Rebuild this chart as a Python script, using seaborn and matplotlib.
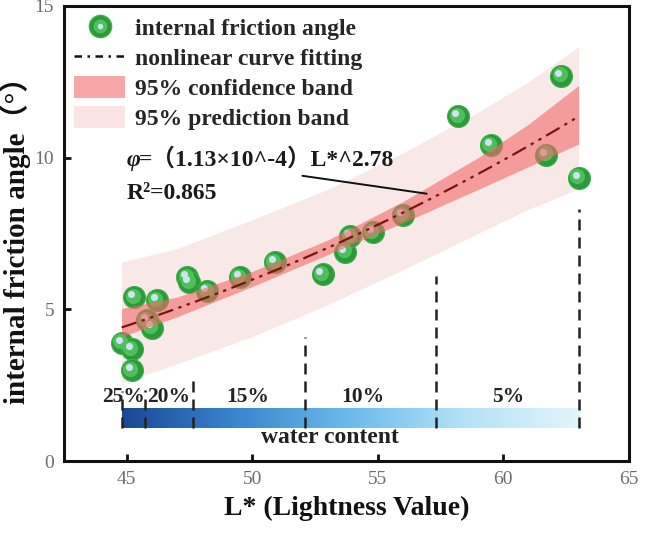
import numpy as np
import pandas as pd
import matplotlib
matplotlib.use("Agg")
import matplotlib.pyplot as plt
import matplotlib.transforms as mtransforms
from matplotlib.colors import LinearSegmentedColormap
from matplotlib.patches import Patch
from matplotlib.lines import Line2D
from matplotlib.legend_handler import HandlerTuple
import seaborn as sns

# ---------------- data ----------------
lightness = [44.8, 45.2, 45.2, 45.3, 45.8, 46.0, 46.2, 47.4, 47.5, 48.2, 49.5,
             50.9, 52.8, 53.7, 53.9, 54.8, 56.0, 58.2, 59.5, 61.7, 62.3, 63.0]
friction = [3.9, 3.68, 3.0, 5.4, 4.64, 4.4, 5.3, 6.06, 5.9, 5.6, 6.06,
            6.56, 6.16, 6.9, 7.4, 7.55, 8.1, 11.36, 10.4, 10.1, 12.7, 9.34]

fit_a = 1.13e-4
fit_b = 2.78

band_x = [44.8, 47, 50, 53, 56, 59, 61, 63]
conf_lo = [4.10, 4.75, 5.75, 6.80, 7.85, 8.95, 9.70, 10.45]
conf_hi = [5.03, 5.40, 6.25, 7.28, 8.55, 10.00, 11.10, 12.38]
pred_lo = [2.58, 3.20, 4.10, 5.15, 6.30, 7.50, 8.30, 8.97]
pred_hi = [6.56, 7.00, 7.95, 8.95, 10.15, 11.50, 12.50, 13.65]

wc_labels = ["25%", "20%", "15%", "10%", "5%"]
wc_label_x = [44.88, 46.67, 49.82, 54.4, 60.18]
wc_bounds = [44.8, 45.72, 47.64, 52.1, 57.3, 63.0]
wc_bound_top = [2.3, 2.35, 2.75, 4.1, 6.1, 8.3]

# ---------------- style ----------------
sns.set_theme(style="white")
plt.rcParams['font.family'] = ['Liberation Serif', 'Noto Sans CJK SC', 'DejaVu Sans']

fig = plt.figure(figsize=(6.45, 5.33), dpi=100)
ax = fig.add_axes([0.099, 0.135, 0.876, 0.854])

df = pd.DataFrame({"L": lightness, "phi": friction})

# prediction band (under the points)
ax.fill_between(band_x, pred_lo, pred_hi, color="#f3d6d6", alpha=0.55,
                linewidth=0, zorder=1.2)

# spheres (base + shading + highlight)
sns.scatterplot(data=df, x="L", y="phi", ax=ax, s=250, color="#2b9a3a",
                edgecolor="#3fb04d", linewidth=0.8, zorder=2, legend=False)
off1 = mtransforms.offset_copy(ax.transData, fig=fig, x=-1.0, y=1.0, units='points')
ax.scatter(lightness, friction, s=120, color="#4fbf5c", linewidth=0,
           transform=off1, zorder=2.1)
off2 = mtransforms.offset_copy(ax.transData, fig=fig, x=-2.2, y=2.2, units='points')
ax.scatter(lightness, friction, s=26, color="#cde3ee", linewidth=0,
           transform=off2, zorder=2.2)

# confidence band (over the points)
ax.fill_between(band_x, conf_lo, conf_hi, color="#f26969", alpha=0.6,
                linewidth=0, zorder=3.1)

# fitted curve
fit_x = np.linspace(min(lightness), max(lightness), 200)
fit_df = pd.DataFrame({"L": fit_x, "phi": fit_a * fit_x ** fit_b})
sns.lineplot(data=fit_df, x="L", y="phi", ax=ax, color="#7a1414", linewidth=1.6,
             zorder=4, legend=False)
ax.lines[-1].set_dashes([7, 2.5, 1.5, 2.5, 1.5, 2.5])

# water content gradient bar
cmap = LinearSegmentedColormap.from_list(
    "wc", ["#1b4796", "#3a86d0", "#6dbbea", "#b4e2f6", "#e2f5fc"])
grad = np.linspace(0, 1, 256).reshape(1, -1)
ax.imshow(grad, cmap=cmap, aspect='auto', extent=[44.8, 63.0, 1.09, 1.72],
          zorder=1.5, interpolation='bilinear')
for xb, yt in zip(wc_bounds, wc_bound_top):
    ax.plot([xb, xb], [1.09, yt], color="#222222", lw=1.8, ls=(0, (4.4, 2.8)), zorder=5)
for lab, xl in zip(wc_labels, wc_label_x):
    ax.text(xl, 2.12, lab, ha='center', va='center', fontsize=15.5,
            fontweight='bold', color='#222222', zorder=6)
ax.text(53.1, 0.77, "water content", ha='center', va='center', fontsize=17,
        fontweight='bold', color='#222222', zorder=6)

# annotation
t1 = ax.text(45.0, 9.72, "φ", ha='left', va='baseline', fontsize=17,
             fontweight='bold', fontstyle='italic', color='#1a1a1a', zorder=6)
fig.canvas.draw()
bb = t1.get_window_extent(renderer=fig.canvas.get_renderer())
x_right = ax.transData.inverted().transform((bb.x1 + 1.5, bb.y0))[0]
ax.text(x_right, 9.72, "=（1.13×10^-4）L*^2.78", ha='left', va='baseline',
        fontsize=17, fontweight='bold', color='#1a1a1a', zorder=6)
ax.text(45.0, 8.62, "R²=0.865", ha='left', va='baseline',
        fontsize=17, fontweight='bold', color='#1a1a1a', zorder=6)
ax.plot([52.0, 56.95], [9.40, 8.81], color='#111111', lw=1.4, zorder=6)

# axes
ax.set_xlim(42.5, 65)
ax.set_ylim(0, 15)
ax.set_xticks([45, 50, 55, 60, 65])
ax.set_yticks([0, 5, 10, 15])
ax.tick_params(axis='both', direction='in', length=5, width=2, colors='#111111',
               labelcolor='#6e6e6e', labelsize=14, bottom=True, left=True, pad=7)
for sp in ax.spines.values():
    sp.set_color('#111111')
    sp.set_linewidth(2.2)
    sp.set_visible(True)
ax.set_xlabel("L* (Lightness Value)", fontsize=20, fontweight='bold',
              color='#111111', labelpad=6)
ax.set_ylabel("internal friction angle（°）", fontsize=21, fontweight='bold',
              color='#111111', va='center')
ax.yaxis.set_label_coords(-48 / 565, 0.50)

# legend
sphere = (
    Line2D([0], [0], marker='o', ls='none', markersize=16, markerfacecolor="#2b9a3a",
           markeredgecolor="#3fb04d"),
    Line2D([0], [0], marker='o', ls='none', markersize=10, markerfacecolor="#4fbf5c",
           markeredgewidth=0),
    Line2D([0], [0], marker='o', ls='none', markersize=4, markerfacecolor="#cde3ee",
           markeredgewidth=0),
)
handles = [
    sphere,
    Line2D([0], [0], color="#111111", lw=1.8, dashes=[3, 2.2, 1, 2.2]),
    Patch(facecolor="#f7a7a7", edgecolor='none'),
    Patch(facecolor="#fbe4e4", edgecolor='none'),
]
labels = ["internal friction angle", "nonlinear curve fitting",
          "95% confidence band", "95% prediction band"]
leg = ax.legend(handles, labels, loc='upper left', frameon=False,
                prop={'weight': 'bold', 'size': 17}, handlelength=2.15,
                handleheight=1.05, labelspacing=0.25, borderaxespad=0.1,
                borderpad=0.35, handletextpad=0.4, bbox_to_anchor=(0.0, 1.0),
                handler_map={tuple: HandlerTuple(ndivide=1, pad=0)})
leg.set_zorder(7)

fig.savefig("out.png", dpi=100)
